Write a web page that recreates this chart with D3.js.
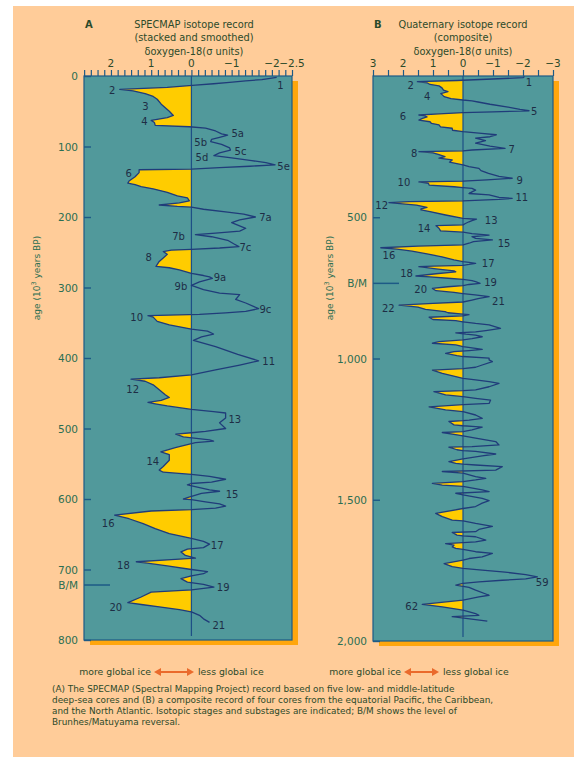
<!DOCTYPE html>
<html lang="en">
<head>
  <meta charset="UTF-8">
  <title>Oxygen isotope records</title>
  <style>
    body { margin: 0; background: #fff; }
    svg text { font-family: "DejaVu Sans", sans-serif; }
  </style>
</head>
<body>
  <svg id="chart"></svg>

  <script src="https://d3js.org/d3.v7.min.js"></script>
  <script>
    // Panel A: SPECMAP stacked record (age in ka, delta 18O in sigma units)
    const ageA = [2, 5, 7, 9, 11, 13, 16, 19, 21, 25, 29, 33, 40, 50, 56, 59, 63, 66, 70, 72,
      74, 78, 82, 84, 87, 90, 93, 97, 102, 105, 109, 113, 116, 120, 123, 126, 128, 130, 132, 133,
      137, 143, 149, 152, 154, 157, 160, 165, 170, 173, 177, 180, 183, 185, 186, 189, 193, 196, 200, 204,
      208, 216, 220, 223, 225, 228, 233, 238, 242, 244, 246, 247, 249, 253, 258, 263, 270, 272, 275, 280,
      283, 285, 287, 292, 297, 303, 308, 310, 317, 322, 330, 334, 336, 338, 340, 342, 348, 353, 359, 362,
      366, 370, 375, 384, 395, 404, 410, 417, 424, 428, 430, 433, 438, 445, 452, 456, 460, 463, 465, 468,
      473, 476, 478, 485, 492, 500, 504, 506, 508, 512, 516, 518, 520, 527, 533, 537, 545, 554, 559, 562,
      565, 568, 572, 576, 578, 580, 587, 589, 592, 598, 600, 601, 604, 607, 610, 613, 615, 617, 623, 628,
      635, 642, 649, 656, 660, 664, 669, 671, 675, 680, 684, 686, 689, 691, 695, 700, 703, 706, 709, 713,
      718, 721, 725, 729, 732, 739, 747, 750, 753, 757, 760, 765, 770, 775];
    const d18A = [-2.12, -1.75, -1.35, -0.95, -0.55, -0.1, 0.6, 1.78, 1.45, 1.15, 0.95, 0.85, 0.75, 0.55, 0.45, 0.6, 1.0, 0.92, 0.9, 0.05,
      -0.35, -0.6, -0.75, -0.9, -0.7, -0.5, -0.48, -0.75, -0.95, -0.97, -0.7, -0.56, -1.0, -1.5, -1.85, -2.08, -1.45, -0.7, 0.0, 1.3,
      1.3, 1.4, 1.55, 1.58, 1.4, 1.25, 0.95, 0.6, 0.35, 0.1, 0.05, 0.3, 0.8, 0.35, 0.0, -0.3, -0.9, -1.3, -1.59, -1.2,
      -1.0, -1.35, -1.2, -0.6, -0.1, -0.5, -0.9, -1.05, -1.18, -0.7, 0.0, 0.5, 0.7, 0.6, 0.7, 0.8, 0.88, 0.55, 0.3, 0.0,
      -0.3, -0.45, -0.52, -0.2, 0.0, -0.3, -0.7, -1.2, -1.1, -1.35, -1.67, -1.35, -0.85, -0.2, 1.08, 0.95, 0.85, 0.55, 0.0, -0.4,
      -0.55, -0.25, -0.05, -0.6, -1.15, -1.67, -1.2, -0.6, 0.0, 0.8, 1.5, 1.15, 0.95, 0.8, 0.65, 0.55, 0.75, 1.08, 0.9, 0.6,
      0.0, -0.55, -0.85, -0.85, -0.7, -0.85, -0.35, 0.0, 0.39, 0.2, -0.45, -0.55, -0.1, 0.4, 0.76, 0.55, 0.55, 0.7, 0.8, 0.7,
      0.0, -0.45, -0.85, -0.5, 0.0, 0.1, -0.45, -0.7, -0.25, 0.1, 0.2, 0.0, -0.35, -0.7, -0.85, -0.6, 0.0, 1.0, 1.91, 1.55,
      1.2, 0.9, 0.55, 0.0, -0.3, -0.45, -0.3, 0.1, 0.26, 0.15, -0.1, 0.5, 1.37, 1.1, 0.6, 0.0, -0.4, -0.3, 0.0, 0.26,
      0.1, -0.3, -0.56, 0.0, 1.0, 1.25, 1.58, 1.2, 0.8, 0.3, 0.0, -0.2, -0.3, -0.45];

    const stageA = ["1", "2", "3", "4", "5a", "5b", "5c", "5d", "5e", "6", "7a", "7b", "7c", "8", "9a", "9b", "9c",
      "10", "11", "12", "13", "14", "15", "16", "17", "18", "19", "20", "21"];
    const stageAgeA = [13, 21, 43, 65, 82, 94, 107, 115, 128, 139, 200, 228, 243, 257, 286, 299, 331,
      342, 405, 445, 487, 547, 593, 635, 666, 695, 726, 754, 779];
    const stageValA = [-2.21, 1.97, 1.14, 1.17, -1.15, -0.23, -1.22, -0.26, -2.29, 1.56, -1.84, 0.32, -1.34, 1.06, -0.71, 0.26, -1.84,
      1.36, -1.92, 1.46, -1.08, 0.96, -1.01, 2.07, -0.64, 1.69, -0.79, 1.88, -0.68];

    // Panel B: Quaternary composite record
    const ageB = [2, 6, 16, 20, 24, 30, 35, 42, 50, 55, 62, 66, 73, 80, 85, 88, 92, 100, 110, 118,
      123, 127, 130, 134, 138, 140, 145, 150, 156, 162, 168, 173, 180, 185, 192, 197, 203, 208, 215, 220,
      229, 238, 248, 256, 262, 265, 268, 272, 278, 285, 291, 297, 305, 315, 321, 327, 335, 345, 355, 362,
      368, 372, 375, 380, 386, 392, 395, 398, 404, 410, 416, 421, 430, 433, 437, 442, 445, 448, 452, 457,
      465, 470, 474, 480, 492, 504, 507, 512, 516, 522, 527, 530, 539, 548, 553, 558, 563, 569, 575, 580,
      586, 592, 598, 602, 608, 613, 620, 630, 640, 651, 657, 660, 663, 667, 670, 673, 675, 683, 690, 693,
      700, 708, 711, 716, 720, 724, 728, 734, 738, 742, 746, 752, 760, 766, 770, 775, 781, 788, 793, 800,
      805, 811, 818, 826, 834, 838, 843, 845, 849, 854, 862, 866, 870, 876, 881, 893, 901, 906, 909, 914,
      917, 923, 930, 934, 940, 946, 952, 958, 964, 968, 972, 976, 982, 990, 993, 999, 1005, 1011, 1023, 1031,
      1036, 1041, 1053, 1064, 1070, 1076, 1082, 1088, 1100, 1111, 1114, 1117, 1129, 1135, 1141, 1147, 1159, 1163, 1171, 1182,
      1188, 1200, 1212, 1218, 1220, 1223, 1235, 1238, 1241, 1243, 1253, 1259, 1262, 1270, 1274, 1282, 1294, 1306, 1312, 1314,
      1323, 1326, 1329, 1338, 1345, 1355, 1365, 1371, 1374, 1377, 1383, 1395, 1400, 1406, 1418, 1424, 1430, 1436, 1442, 1448,
      1453, 1465, 1471, 1477, 1483, 1495, 1503, 1512, 1524, 1531, 1548, 1560, 1572, 1575, 1584, 1594, 1605, 1613, 1616, 1625,
      1628, 1631, 1643, 1649, 1652, 1655, 1661, 1667, 1672, 1676, 1684, 1690, 1702, 1708, 1714, 1726, 1737, 1743, 1749, 1755,
      1765, 1773, 1780, 1785, 1791, 1796, 1802, 1810, 1820, 1838, 1844, 1855, 1870, 1879, 1891, 1903, 1909, 1914, 1924, 1930];
    const d18B = [-2.05, -2.0, 0.2, 1.52, 1.2, 1.1, 0.8, 0.7, 0.65, 0.5, 0.74, 0.7, 0.63, 0.4, 0.0, -0.3, -0.5, -0.9, -1.5, -1.9,
      -2.2, -1.0, 0.0, 0.8, 1.47, 1.3, 1.2, 1.35, 1.47, 1.1, 1.05, 0.8, 0.75, 0.36, 0.35, 0.0, -0.62, -1.11, -0.9, -0.42,
      -0.75, -0.42, -0.9, -1.4, -0.3, 0.0, 1.47, 1.0, 0.8, 0.6, 0.8, 0.36, 0.45, 0.0, -0.2, -0.53, -0.6, -0.85, -1.2, -1.64,
      -0.8, 0.0, 1.47, 1.15, 1.13, 0.3, 0.0, -0.3, -0.42, -0.3, -0.2, -0.87, -1.2, -1.64, -1.2, 0.0, 1.8, 2.47, 2.1, 1.55,
      1.2, 1.4, 1.4, 1.1, 0.58, 0.0, -0.45, -0.3, -0.2, -0.08, 0.0, 0.9, 0.8, 0.75, 0.0, -0.3, -0.87, -0.3, -0.42, -0.98,
      -0.35, -0.2, 0.0, 1.5, 2.74, 2.2, 1.7, 1.2, 0.7, 0.3, 0.0, -0.2, -0.42, -0.2, 0.0, 1.0, 1.47, 0.9, 0.3, 0.24,
      0.9, 1.57, 1.1, 0.5, 0.0, -0.3, -0.42, -0.57, -0.2, 0.0, 0.5, 1.02, 0.9, 0.3, 0.0, -0.4, -0.87, -0.5, -0.3, 0.0,
      1.0, 2.13, 1.5, 1.25, 0.6, 0.5, 0.0, -0.2, 0.0, 1.13, 1.0, 0.24, 0.0, -0.42, -0.87, -1.25, -0.76, -0.42, 0.24, -0.1,
      -0.42, -0.64, -0.3, 0.0, 0.8, 1.02, 0.24, 0.0, -0.42, -0.64, -0.2, 0.3, 0.58, 0.2, 0.0, -0.87, -0.87, -0.98, -0.64, -0.42,
      0.0, 1.02, 0.69, 0.24, 0.0, -0.42, -0.87, -1.2, -0.87, -0.42, 0.0, 0.97, 0.58, 0.0, -0.42, -0.92, -0.87, 0.0, 1.13, 0.58,
      0.0, -0.42, -0.64, -0.2, 0.0, 0.47, 0.3, 0.0, -0.42, -0.64, -0.3, 0.0, 0.69, 0.2, 0.0, -0.42, -1.09, -1.2, -0.3, 0.47,
      0.2, 0.0, -0.42, -1.09, -0.64, 0.0, 0.47, 0.24, 0.0, -0.42, -1.31, -1.09, 0.69, 0.0, -0.42, -0.76, -0.42, 0.0, 1.02, 0.69,
      0.0, -0.64, -0.87, 0.24, 0.0, -0.64, -0.87, -0.64, -0.42, 0.0, 0.91, 0.69, 0.36, 0.0, -0.42, -0.98, -0.53, -0.42, 0.36, 0.2,
      0.0, -0.42, -0.76, -0.42, 0.0, 0.58, 0.3, 0.36, 0.24, 0.0, -0.42, -0.98, -0.64, -0.2, 0.0, 0.63, 0.36, 0.0, -0.64, -1.31,
      -2.09, -2.48, -2.09, -1.31, -0.53, 0.0, 0.24, -0.2, -0.42, -0.87, -0.53, 0.0, 1.36, 0.69, 0.0, -0.42, -0.53, 0.36, -0.42, -0.81];

    const stageB = ["1", "2", "4", "5", "6", "7", "8", "9", "10", "11", "12", "13", "14", "15", "16", "17",
      "18", "19", "20", "21", "22", "59", "62"];
    const stageAgeB = [24, 32, 73, 126, 144, 260, 274, 371, 378, 431, 457, 513, 539, 592, 637, 663,
      698, 732, 755, 799, 822, 1794, 1878];
    const stageValB = [-2.2, 1.74, 1.19, -2.37, 2.0, -1.62, 1.63, -1.89, 1.97, -1.96, 2.71, -0.94, 1.3, -1.37, 2.47, -0.84,
      1.88, -0.92, 1.41, -1.18, 2.49, -2.64, 1.71];

    // axes
    const tickValsA = [2, 1, 0, -1, -2, -2.5];
    const tickValsB = [3, 2, 1, 0, -1, -2, -3];
    const ageTicksA = [0, 100, 200, 300, 400, 500, 600, 700, 800];
    const ageTicksB = [500, 1000, 1500, 2000];
    const bmAgeA = 722;
    const bmAgeB = 734;

    const caption = [
      "(A) The SPECMAP (Spectral Mapping Project) record based on five low- and middle-latitude",
      "deep-sea cores and (B) a composite record of four cores from the equatorial Pacific, the Caribbean,",
      "and the North Atlantic.  Isotopic stages and substages are indicated; B/M shows the level of",
      "Brunhes/Matuyama reversal."
    ];

    const W = 574, H = 758;
    const peach = "#ffcc99", teal = "#51999b", yellow = "#ffcc00", shadow = "#ffa60d";
    const navy = "#203c7a", tickCol = "#2b6e52", textCol = "#2c4a2a";

    const svg = d3.select("#chart").attr("width", W).attr("height", H);
    svg.append("rect").attr("x", 13).attr("y", 6).attr("width", W - 13).attr("height", H - 6 - 1).attr("fill", peach);

    function drawPanel(cfg) {
      const g = svg.append("g");
      const x = d3.scaleLinear().domain(cfg.xDomain).range([cfg.left, cfg.right]);
      const y = d3.scaleLinear().domain(cfg.yDomain).range([cfg.top, cfg.bottom]);
      const data = cfg.ages.map((a, i) => ({ age: a, v: cfg.vals[i] }));

      // shadow + plot area
      g.append("rect").attr("x", cfg.left + 6).attr("y", cfg.top + 5)
        .attr("width", cfg.right - cfg.left).attr("height", cfg.bottom - cfg.top).attr("fill", shadow);
      g.append("rect").attr("x", cfg.left).attr("y", cfg.top)
        .attr("width", cfg.right - cfg.left).attr("height", cfg.bottom - cfg.top)
        .attr("fill", teal).attr("stroke", "#1d5a86").attr("stroke-width", 1.2);

      // yellow fill on the "more ice" side
      const clipId = "clip" + cfg.id;
      g.append("clipPath").attr("id", clipId).append("rect")
        .attr("x", cfg.left).attr("y", cfg.top).attr("width", x(0) - cfg.left).attr("height", cfg.bottom - cfg.top);
      const area = d3.area().y(d => y(d.age)).x0(x(0)).x1(d => x(d.v));
      g.append("path").datum(data).attr("d", area).attr("fill", yellow)
        .attr("clip-path", `url(#${clipId})`);

      // zero line
      g.append("line").attr("x1", x(0)).attr("x2", x(0)).attr("y1", cfg.top).attr("y2", cfg.bottom - 4)
        .attr("stroke", "#1d4f86").attr("stroke-width", 1.2);

      // isotope curve
      const line = d3.line().y(d => y(d.age)).x(d => x(d.v));
      g.append("path").datum(data).attr("d", line).attr("fill", "none")
        .attr("stroke", navy).attr("stroke-width", 1.3).attr("stroke-linejoin", "round");

      // top axis
      const xAxis = d3.axisTop(x).tickValues(cfg.minorTicks).tickSize(6).tickFormat("");
      const xa = g.append("g").attr("transform", `translate(0,${cfg.top})`).call(xAxis);
      xa.select(".domain").remove();
      xa.selectAll("line").attr("stroke", "#1d5a86").attr("stroke-width", 1.2);
      g.selectAll(".xlab").data(cfg.tickVals).enter().append("text")
        .attr("x", d => x(d)).attr("y", cfg.top - 9).attr("text-anchor", "middle")
        .attr("font-size", 10.5).attr("fill", textCol)
        .text(d => d === 0 ? "0" : (d < 0 ? "\u2212" + (-d) : d));

      // left axis
      const yAxis = d3.axisRight(y).tickValues(cfg.ageTicks).tickSize(7).tickFormat("");
      const ya = g.append("g").attr("transform", `translate(${cfg.left},0)`).call(yAxis);
      ya.select(".domain").remove();
      ya.selectAll("line").attr("stroke", "#1d5a86").attr("stroke-width", 1.4);
      g.selectAll(".ylab").data(cfg.ageTicks).enter().append("text")
        .attr("x", cfg.left - 6).attr("y", d => y(d) + 4).attr("text-anchor", "end")
        .attr("font-size", 10.5).attr("fill", tickCol)
        .text(d => d3.format(",")(d));

      // B/M
      g.append("line").attr("x1", cfg.left).attr("x2", cfg.left + 26)
        .attr("y1", y(cfg.bm)).attr("y2", y(cfg.bm)).attr("stroke", "#1d5a86").attr("stroke-width", 1.5);
      g.append("text").attr("x", cfg.left - 6).attr("y", y(cfg.bm) + 4).attr("text-anchor", "end")
        .attr("font-size", 10.5).attr("fill", tickCol).text("B/M");

      // stage labels
      g.selectAll(".stage").data(cfg.stages).enter().append("text")
        .attr("x", (d, i) => x(cfg.stageVals[i])).attr("y", (d, i) => y(cfg.stageAges[i]) + 3.5)
        .attr("text-anchor", "middle").attr("font-size", 10).attr("fill", "#1e2d45")
        .text(d => d);

      // titles
      g.append("text").attr("x", cfg.left + 1).attr("y", 28).attr("font-size", 10).attr("font-weight", "bold")
        .attr("fill", textCol).text(cfg.id);
      cfg.title.forEach((t, i) => {
        g.append("text").attr("x", cfg.titleX).attr("y", 28 + i * 12.5).attr("text-anchor", "middle")
          .attr("font-size", 9.8).attr("fill", textCol).text(t);
      });
      g.append("text").attr("x", cfg.titleX).attr("y", 55).attr("text-anchor", "middle")
        .attr("font-size", 9.8).attr("fill", textCol).text("\u03b4oxygen-18(\u03c3 units)");

      // y title
      const yt = g.append("text").attr("transform", `translate(${cfg.yTitleX},278) rotate(-90)`)
        .attr("text-anchor", "middle").attr("font-size", 9).attr("fill", tickCol);
      yt.append("tspan").text("age (10");
      yt.append("tspan").attr("baseline-shift", "super").attr("font-size", 6.5).text("3");
      yt.append("tspan").text(" years BP)");

      // more / less ice
      const ly = 675;
      g.append("text").attr("x", cfg.arrow[0] - 3).attr("y", ly).attr("text-anchor", "end")
        .attr("font-size", 9.3).attr("fill", textCol).text("more global ice");
      g.append("text").attr("x", cfg.arrow[1] + 4).attr("y", ly).attr("text-anchor", "start")
        .attr("font-size", 9.3).attr("fill", textCol).text("less global ice");
      g.append("line").attr("x1", cfg.arrow[0] + 5).attr("x2", cfg.arrow[1] - 5)
        .attr("y1", ly - 3).attr("y2", ly - 3).attr("stroke", "#ea6a2c").attr("stroke-width", 2);
      [[cfg.arrow[0], 1], [cfg.arrow[1], -1]].forEach(([ax, s]) => {
        g.append("path")
          .attr("d", `M${ax},${ly - 3} l${s * 7},-4 l0,8 z`)
          .attr("fill", "#ea6a2c");
      });
    }

    drawPanel({
      id: "A", left: 84, right: 292, top: 76, bottom: 640,
      xDomain: [2.67, -2.5], yDomain: [0, 800],
      ages: ageA, vals: d18A, tickVals: tickValsA,
      minorTicks: d3.range(-15, 17).map(k => k / 6),
      ageTicks: ageTicksA, bm: bmAgeA,
      stages: stageA, stageAges: stageAgeA, stageVals: stageValA,
      title: ["SPECMAP isotope record", "(stacked and smoothed)"], titleX: 194,
      yTitleX: 40, arrow: [154, 194]
    });

    drawPanel({
      id: "B", left: 373, right: 553, top: 76, bottom: 641,
      xDomain: [3, -3], yDomain: [0, 2000],
      ages: ageB, vals: d18B, tickVals: tickValsB,
      minorTicks: d3.range(-6, 7).map(k => k / 2),
      ageTicks: ageTicksB, bm: bmAgeB,
      stages: stageB, stageAges: stageAgeB, stageVals: stageValB,
      title: ["Quaternary isotope record", "(composite)"], titleX: 463,
      yTitleX: 333, arrow: [404, 439]
    });

    // caption
    svg.append("g").selectAll("text").data(caption).enter().append("text")
      .attr("x", 52).attr("y", (d, i) => 691.5 + i * 11.3)
      .attr("font-size", 8.9).attr("fill", textCol)
      .text(d => d);
  </script>
</body>
</html>
